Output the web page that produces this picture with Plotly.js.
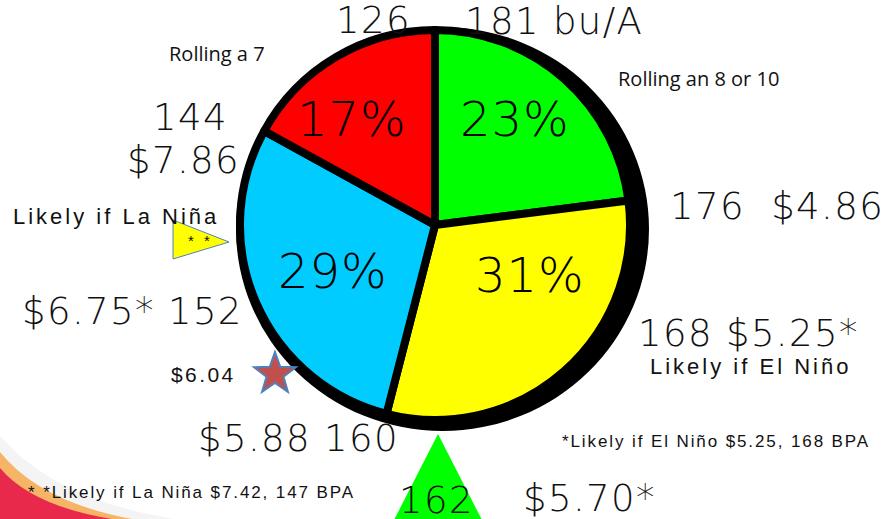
<!DOCTYPE html>
<html>
<head>
<meta charset="utf-8">
<script src="https://cdn.plot.ly/plotly-3.0.1.min.js"></script>
<style>html,body{margin:0;padding:0;background:#fff;}#chart{width:885px;height:519px;}</style>
</head>
<body>
<div id="chart"></div>
<script>
// ---- data ----
const sliceNames = ["Rolling an 8 or 10", "El Niño side", "La Niña side", "Rolling a 7"];
const sliceShares = [23, 31, 29, 17];
const sliceColors = ["#00ff00", "#ffff00", "#00ccff", "#ff0000"];

const bigNotes = ["126", "181 bu/A", "144", "$7.86", "176  $4.86", "$6.75* 152", "168 $5.25*", "$5.88 160", "162", "$5.70*"];
const smallNotes = ["Rolling a 7", "Rolling an 8 or 10"];
const ninoNotes = ["Likely if La Niña", "Likely if El Niño", "$6.04", "*Likely if El Niño $5.25, 168 BPA", "* *Likely if La Niña $7.42, 147 BPA"];

// ---- layout helpers (pixel -> paper) ----
const W = 885, H = 519;
const px = x => x / W;
const py = y => 1 - y / H;
const spaced = (t, s) => '<span style="letter-spacing:' + s + 'px">' + t + '</span>';

const FONT = "DejaVu Sans";
const bigPos = [[373, 20], [554, 22], [190, 118], [183, 161], [777, 206], [132, 311], [748, 333], [298, 438], [436, 500], [589, 498]];
const smallPos = [[217, 53], [698, 78]];
const ninoPos = [[116, 216], [750, 366], [203, 374], [716, 441], [191, 492]];
const ninoSize = [22, 22, 21, 17, 17];
const ninoSpace = [3, 3, 2.4, 1.9, 1.9];
const pctPos = [[515, 119], [530, 275], [333, 271], [352, 119]];

const annotations = [];
bigNotes.forEach((t, i) => annotations.push({text: spaced(t, 1.4), x: px(bigPos[i][0]), y: py(bigPos[i][1]), xref: "paper", yref: "paper", showarrow: false, xanchor: "center", yanchor: "middle", font: {family: FONT, size: 37, color: "#111", weight: 300}}));
smallNotes.forEach((t, i) => annotations.push({text: t, x: px(smallPos[i][0]), y: py(smallPos[i][1]), xref: "paper", yref: "paper", showarrow: false, xanchor: "center", yanchor: "middle", font: {family: "Open Sans", size: 20, color: "#111"}}));
ninoNotes.forEach((t, i) => annotations.push({text: spaced(t, ninoSpace[i]), x: px(ninoPos[i][0]), y: py(ninoPos[i][1]), xref: "paper", yref: "paper", showarrow: false, xanchor: "center", yanchor: "middle", font: {family: "Liberation Sans", size: ninoSize[i], color: "#111"}}));
annotations.push({text: spaced("* *", 3), x: px(200), y: py(240), xref: "paper", yref: "paper", showarrow: false, xanchor: "center", yanchor: "middle", font: {family: "Liberation Sans", size: 15, color: "#111"}});
// slice percentages, built from the data
sliceShares.forEach((v, i) => annotations.push({text: spaced(v + "%", 1), x: px(pctPos[i][0]), y: py(pctPos[i][1]), xref: "paper", yref: "paper", showarrow: false, xanchor: "center", yanchor: "middle", font: {family: FONT, size: 48, color: "#000", weight: 300}}));

// star path
function starPath(cx, cy, ro, ri) {
  let d = "";
  for (let k = 0; k < 10; k++) {
    const r = k % 2 === 0 ? ro : ri;
    const a = -Math.PI / 2 + k * Math.PI / 5;
    const x = cx + r * Math.cos(a), y = cy + r * Math.sin(a);
    d += (k === 0 ? "M" : "L") + px(x).toFixed(4) + "," + py(y).toFixed(4);
  }
  return d + "Z";
}
function poly(pts) {
  return pts.map((p, k) => (k === 0 ? "M" : "L") + px(p[0]).toFixed(4) + "," + py(p[1]).toFixed(4)).join("") + "Z";
}
function curve(p0, c, p1, extra) {
  return "M" + px(p0[0]) + "," + py(p0[1]) + " Q" + px(c[0]) + "," + py(c[1]) + " " + px(p1[0]) + "," + py(p1[1]) +
    extra.map(p => " L" + px(p[0]) + "," + py(p[1])).join("") + " Z";
}

const shapes = [
  // shadow disc behind the pie
  {type: "circle", xref: "paper", yref: "paper", layer: "below", x0: px(236), x1: px(649), y0: py(431), y1: py(27), fillcolor: "#000", line: {width: 0}},
  // bottom-left swoosh
  {type: "path", xref: "paper", yref: "paper", layer: "below", path: curve([0, 436], [55, 500], [175, 519], [[0, 519]]), fillcolor: "#f4f4f4", line: {width: 0}},
  {type: "path", xref: "paper", yref: "paper", layer: "below", path: curve([0, 452], [40, 502], [132, 519], [[0, 519]]), fillcolor: "#f6b566", line: {width: 0}},
  {type: "path", xref: "paper", yref: "paper", layer: "below", path: curve([0, 468], [32, 506], [112, 519], [[0, 519]]), fillcolor: "#e8294c", line: {width: 0}},
  // yellow pointer triangle
  {type: "path", xref: "paper", yref: "paper", layer: "below", path: poly([[173, 220], [229, 242], [173, 259]]), fillcolor: "#ffff00", line: {color: "#4f81bd", width: 1}},
  // green triangle
  {type: "path", xref: "paper", yref: "paper", layer: "below", path: poly([[438, 434], [394, 520], [482, 520]]), fillcolor: "#00ff00", line: {width: 0}},
  // star
  {type: "path", xref: "paper", yref: "paper", layer: "above", path: starPath(275, 374, 22, 9), fillcolor: "#c0504d", line: {color: "#4f81bd", width: 2}}
];

const trace = {
  type: "pie",
  labels: sliceNames,
  values: sliceShares,
  textinfo: "none",
  sort: false,
  direction: "clockwise",
  rotation: 0,
  hole: 0,
  marker: {colors: sliceColors, line: {color: "#000", width: 8}},
  showlegend: false,
  domain: {x: [px(240), px(630)], y: [py(420), py(30)]}
};

const layout = {
  width: W, height: H,
  margin: {l: 0, r: 0, t: 0, b: 0},
  paper_bgcolor: "#fff",
  plot_bgcolor: "#fff",
  showlegend: false,
  shapes: shapes,
  annotations: annotations
};

Plotly.newPlot("chart", [trace], layout, {staticPlot: true, displayModeBar: false});
</script>
</body>
</html>
